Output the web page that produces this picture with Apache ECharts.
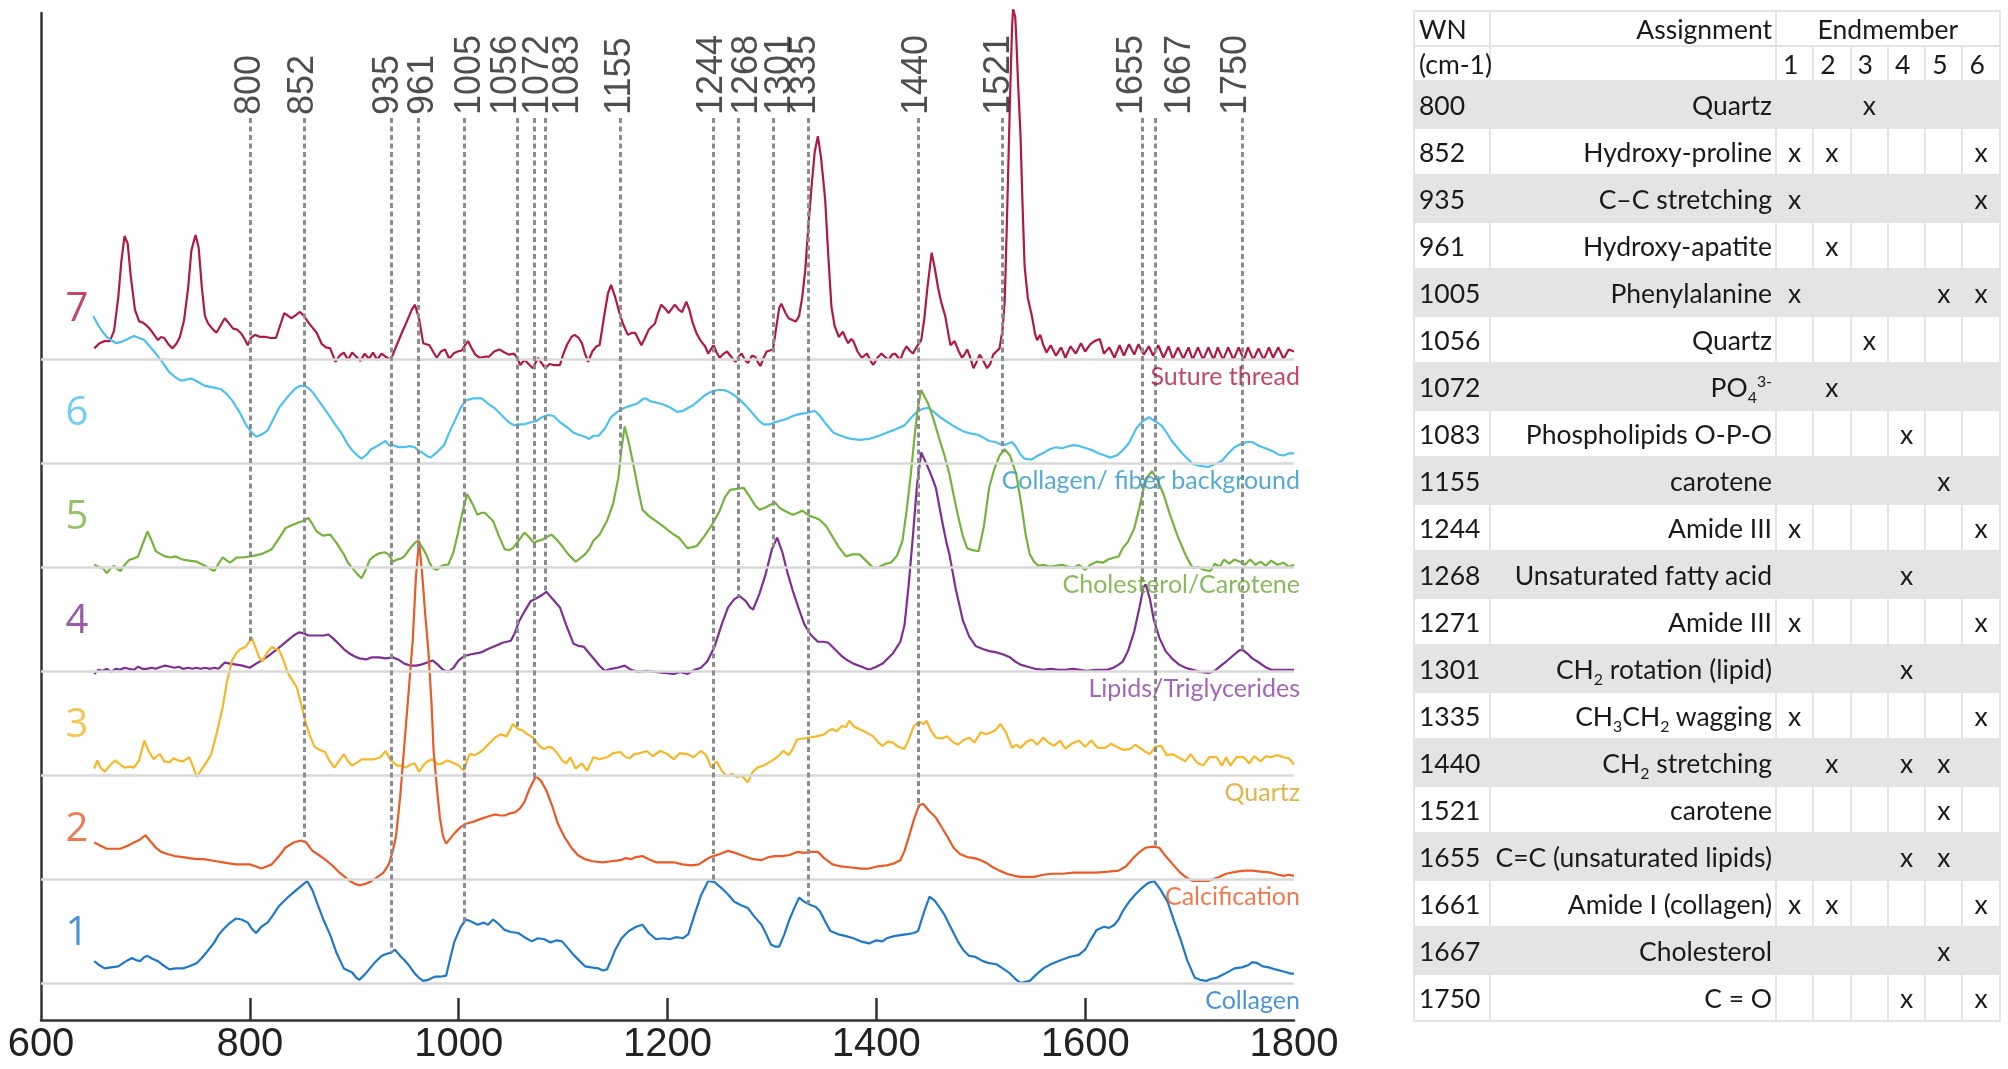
<!DOCTYPE html>
<html>
<head>
<meta charset="utf-8">
<title>Raman endmembers</title>
<script src="https://cdn.jsdelivr.net/npm/echarts@6/dist/echarts.min.js"></script>
<style>
html, body { margin: 0; padding: 0; background: #fff; }
#chart { position: absolute; left: 0; top: 0; width: 2008px; height: 1069px; }
#tbl {
  position: absolute; left: 1413px; top: 10px; width: 586px;
  border-collapse: collapse; table-layout: fixed;
  font-family: Lato, "Open Sans", sans-serif; font-size: 26.5px; color: #1a1a1a;
}
#tbl td { border: 2px solid #e4e4e4; padding: 0 4px; white-space: nowrap; overflow: visible; }
#tbl tr.head td { height: 33px; }
#tbl tr.row td { height: 45px; }
#tbl tr.grey td { background: #e4e4e4; }
#tbl td.wn { text-align: left; }
#tbl td.as { text-align: right; padding-right: 3px; }
#tbl td.em { text-align: center; padding: 0; }
#tbl td.num { text-align: left; padding-left: 6px; }
#tbl sub, #tbl sup { font-size: 0.6em; line-height: 0; }
</style>
</head>
<body>
<div id="chart"></div>
<table id="tbl"></table>
<script>
// spectra: [wavenumber, height above own baseline], 1 unit = baseline spacing
var collagen = [[651,0.22],[656,0.18],[661,0.15],[667,0.16],[674,0.17],[680,0.21],[687,0.25],[691,0.23],[695,0.22],[699,0.26],[702,0.27],[707,0.24],[712,0.22],[717,0.18],[723,0.14],[729,0.15],[736,0.15],[742,0.17],[749,0.20],[754,0.25],[759,0.31],[766,0.40],[770,0.47],[774,0.52],[780,0.58],[787,0.63],[792,0.62],[798,0.59],[802,0.53],[806,0.49],[811,0.55],[817,0.59],[822,0.66],[828,0.75],[835,0.82],[843,0.89],[849,0.94],[855,0.99],[860,0.90],[864,0.79],[870,0.63],[877,0.47],[883,0.30],[890,0.15],[894,0.13],[898,0.11],[902,0.06],[905,0.04],[910,0.09],[915,0.15],[920,0.21],[926,0.27],[931,0.29],[935,0.30],[939,0.33],[944,0.27],[948,0.23],[953,0.17],[958,0.10],[962,0.06],[966,0.03],[971,0.04],[977,0.07],[982,0.07],[988,0.08],[992,0.25],[996,0.41],[1002,0.55],[1007,0.62],[1012,0.60],[1018,0.57],[1024,0.59],[1028,0.57],[1033,0.62],[1038,0.58],[1044,0.52],[1050,0.50],[1057,0.49],[1063,0.45],[1070,0.41],[1076,0.44],[1082,0.43],[1088,0.40],[1094,0.42],[1099,0.41],[1105,0.34],[1110,0.28],[1116,0.22],[1121,0.17],[1127,0.16],[1134,0.15],[1138,0.13],[1142,0.14],[1146,0.23],[1150,0.33],[1156,0.44],[1163,0.51],[1170,0.55],[1176,0.57],[1182,0.49],[1189,0.43],[1196,0.44],[1202,0.43],[1208,0.45],[1215,0.44],[1220,0.48],[1226,0.67],[1232,0.85],[1239,0.99],[1245,0.98],[1252,0.92],[1258,0.86],[1264,0.79],[1270,0.76],[1277,0.73],[1283,0.65],[1290,0.57],[1295,0.47],[1299,0.38],[1303,0.36],[1307,0.36],[1312,0.48],[1316,0.60],[1321,0.72],[1326,0.83],[1331,0.79],[1337,0.76],[1342,0.74],[1346,0.70],[1351,0.60],[1356,0.51],[1363,0.48],[1371,0.46],[1378,0.44],[1385,0.41],[1393,0.39],[1400,0.42],[1406,0.41],[1410,0.44],[1417,0.46],[1423,0.47],[1430,0.48],[1436,0.49],[1440,0.51],[1446,0.70],[1451,0.84],[1456,0.80],[1461,0.73],[1465,0.67],[1470,0.57],[1478,0.41],[1483,0.33],[1489,0.27],[1495,0.26],[1502,0.22],[1508,0.20],[1515,0.19],[1521,0.15],[1527,0.11],[1533,0.05],[1538,0.01],[1543,0.02],[1547,0.03],[1553,0.09],[1560,0.15],[1567,0.19],[1577,0.23],[1585,0.26],[1594,0.28],[1600,0.33],[1605,0.42],[1611,0.52],[1618,0.55],[1623,0.54],[1628,0.57],[1632,0.62],[1636,0.70],[1642,0.79],[1648,0.86],[1654,0.92],[1660,0.97],[1666,0.99],[1672,0.91],[1679,0.79],[1685,0.61],[1692,0.41],[1698,0.22],[1705,0.06],[1710,0.04],[1716,0.03],[1721,0.05],[1726,0.06],[1734,0.10],[1743,0.15],[1750,0.16],[1756,0.18],[1760,0.21],[1765,0.20],[1770,0.17],[1776,0.16],[1782,0.14],[1790,0.12],[1797,0.10],[1800,0.10]];

var calcification = [[651,0.36],[657,0.33],[663,0.30],[670,0.30],[676,0.30],[683,0.33],[689,0.36],[695,0.39],[700,0.43],[705,0.37],[710,0.31],[715,0.27],[721,0.25],[728,0.23],[736,0.22],[742,0.21],[749,0.20],[755,0.20],[762,0.19],[768,0.18],[774,0.17],[780,0.16],[787,0.15],[794,0.15],[800,0.15],[806,0.13],[811,0.11],[816,0.13],[821,0.15],[828,0.23],[834,0.31],[842,0.36],[849,0.38],[854,0.36],[860,0.28],[866,0.24],[873,0.19],[880,0.13],[886,0.07],[891,0.03],[896,-0.01],[901,-0.04],[905,-0.05],[910,-0.04],[915,-0.02],[921,0.02],[928,0.07],[933,0.15],[937,0.28],[940,0.42],[944,0.80],[948,1.30],[952,1.80],[956,2.30],[959,2.90],[962,3.26],[965,2.95],[968,2.55],[971,2.20],[974,1.70],[976,1.24],[979,0.90],[982,0.60],[985,0.42],[988,0.35],[992,0.40],[997,0.46],[1002,0.51],[1007,0.54],[1014,0.56],[1022,0.59],[1028,0.61],[1035,0.63],[1040,0.62],[1044,0.62],[1049,0.64],[1054,0.65],[1059,0.69],[1063,0.75],[1068,0.88],[1074,1.00],[1079,0.95],[1084,0.86],[1090,0.70],[1095,0.54],[1101,0.42],[1108,0.31],[1114,0.24],[1121,0.20],[1128,0.18],[1138,0.17],[1146,0.18],[1155,0.19],[1160,0.21],[1165,0.20],[1170,0.22],[1176,0.23],[1182,0.20],[1189,0.17],[1196,0.17],[1206,0.17],[1214,0.15],[1223,0.14],[1230,0.15],[1236,0.19],[1241,0.22],[1250,0.25],[1258,0.28],[1265,0.26],[1273,0.23],[1282,0.20],[1290,0.19],[1297,0.22],[1303,0.23],[1310,0.23],[1317,0.24],[1324,0.27],[1331,0.26],[1337,0.27],[1344,0.27],[1350,0.21],[1358,0.15],[1366,0.13],[1376,0.12],[1385,0.11],[1393,0.11],[1401,0.13],[1410,0.14],[1417,0.16],[1423,0.19],[1427,0.28],[1431,0.41],[1436,0.58],[1441,0.72],[1445,0.73],[1450,0.67],[1457,0.60],[1463,0.50],[1469,0.40],[1474,0.31],[1480,0.25],[1487,0.22],[1494,0.21],[1500,0.19],[1506,0.16],[1512,0.12],[1518,0.09],[1525,0.06],[1532,0.04],[1538,0.03],[1545,0.03],[1551,0.03],[1560,0.05],[1568,0.06],[1578,0.06],[1589,0.07],[1600,0.07],[1611,0.07],[1622,0.08],[1632,0.09],[1639,0.13],[1645,0.20],[1651,0.26],[1658,0.31],[1665,0.32],[1671,0.31],[1677,0.23],[1684,0.15],[1690,0.08],[1696,0.03],[1703,-0.01],[1710,-0.01],[1718,-0.01],[1726,0.02],[1735,0.06],[1745,0.08],[1753,0.09],[1760,0.09],[1768,0.08],[1778,0.07],[1785,0.05],[1790,0.04],[1795,0.05],[1800,0.04]];

var quartz = [[651,0.07],[654,0.15],[657,0.08],[661,0.04],[666,0.10],[671,0.15],[676,0.11],[680,0.08],[685,0.09],[689,0.08],[694,0.15],[699,0.34],[703,0.24],[708,0.16],[711,0.19],[714,0.21],[718,0.14],[723,0.13],[727,0.17],[731,0.15],[736,0.14],[742,0.18],[746,0.08],[749,-0.01],[755,0.08],[759,0.14],[763,0.21],[768,0.40],[774,0.66],[778,0.90],[783,1.11],[787,1.18],[791,1.22],[796,1.24],[802,1.33],[806,1.22],[809,1.14],[812,1.10],[816,1.18],[821,1.24],[825,1.22],[828,1.21],[832,1.12],[836,1.00],[840,0.93],[845,0.85],[849,0.70],[853,0.53],[857,0.40],[862,0.28],[867,0.25],[872,0.23],[876,0.15],[881,0.08],[885,0.14],[890,0.21],[894,0.14],[898,0.10],[903,0.13],[907,0.16],[913,0.16],[919,0.16],[925,0.18],[930,0.24],[935,0.15],[941,0.10],[945,0.10],[949,0.08],[954,0.11],[958,0.12],[962,0.04],[966,0.10],[970,0.14],[975,0.16],[980,0.11],[984,0.12],[989,0.15],[994,0.13],[1000,0.10],[1005,0.05],[1008,0.15],[1011,0.21],[1016,0.20],[1022,0.24],[1028,0.30],[1035,0.37],[1040,0.40],[1046,0.38],[1052,0.50],[1057,0.45],[1061,0.44],[1066,0.40],[1071,0.37],[1075,0.32],[1078,0.28],[1082,0.26],[1086,0.28],[1090,0.27],[1095,0.21],[1099,0.15],[1103,0.12],[1107,0.18],[1112,0.07],[1118,0.12],[1123,0.05],[1129,0.18],[1135,0.16],[1142,0.18],[1148,0.22],[1155,0.23],[1160,0.18],[1164,0.17],[1168,0.21],[1174,0.22],[1180,0.24],[1186,0.19],[1193,0.24],[1200,0.21],[1206,0.16],[1212,0.22],[1219,0.21],[1225,0.18],[1232,0.24],[1237,0.20],[1242,0.08],[1247,0.14],[1252,0.05],[1257,0.00],[1262,0.02],[1266,-0.01],[1271,0.00],[1275,-0.04],[1277,-0.06],[1281,0.03],[1286,0.08],[1292,0.10],[1299,0.14],[1305,0.18],[1311,0.24],[1316,0.20],[1320,0.26],[1324,0.35],[1330,0.36],[1337,0.37],[1343,0.38],[1350,0.40],[1355,0.44],[1358,0.45],[1362,0.43],[1367,0.48],[1371,0.47],[1374,0.53],[1379,0.47],[1384,0.45],[1390,0.42],[1397,0.38],[1402,0.32],[1406,0.29],[1411,0.33],[1416,0.32],[1421,0.28],[1427,0.26],[1431,0.35],[1436,0.48],[1441,0.52],[1445,0.50],[1448,0.53],[1452,0.44],[1457,0.37],[1462,0.36],[1468,0.38],[1473,0.33],[1478,0.30],[1483,0.34],[1489,0.37],[1494,0.32],[1500,0.42],[1505,0.40],[1510,0.42],[1514,0.44],[1519,0.50],[1524,0.42],[1530,0.27],[1534,0.30],[1538,0.27],[1544,0.33],[1549,0.35],[1554,0.30],[1560,0.37],[1565,0.32],[1570,0.29],[1576,0.34],[1581,0.26],[1587,0.31],[1594,0.34],[1600,0.28],[1606,0.34],[1612,0.27],[1619,0.27],[1625,0.31],[1632,0.27],[1637,0.25],[1643,0.26],[1648,0.30],[1654,0.26],[1658,0.23],[1662,0.21],[1667,0.28],[1673,0.29],[1678,0.20],[1684,0.21],[1689,0.18],[1696,0.14],[1701,0.21],[1707,0.13],[1713,0.10],[1719,0.18],[1726,0.18],[1731,0.10],[1735,0.18],[1739,0.10],[1745,0.18],[1752,0.18],[1757,0.12],[1762,0.19],[1768,0.14],[1773,0.19],[1778,0.18],[1784,0.20],[1790,0.18],[1795,0.17],[1800,0.11]];

var lipids = [[651,-0.02],[655,0.02],[659,0.01],[663,0.03],[667,0.00],[672,0.03],[676,0.02],[680,0.04],[684,0.03],[689,0.02],[693,0.05],[697,0.03],[701,0.03],[706,0.04],[710,0.03],[715,0.05],[719,0.06],[724,0.05],[728,0.04],[732,0.05],[736,0.03],[741,0.04],[745,0.03],[749,0.04],[753,0.03],[757,0.04],[762,0.03],[766,0.04],[770,0.03],[776,0.09],[781,0.08],[787,0.07],[793,0.06],[800,0.04],[806,0.08],[813,0.12],[820,0.17],[825,0.21],[830,0.25],[836,0.30],[842,0.35],[847,0.38],[852,0.37],[856,0.35],[860,0.35],[866,0.35],[871,0.35],[875,0.36],[880,0.32],[885,0.27],[890,0.22],[895,0.18],[900,0.15],[905,0.13],[911,0.12],[917,0.14],[924,0.14],[930,0.13],[937,0.14],[942,0.12],[948,0.08],[954,0.06],[959,0.06],[964,0.07],[970,0.09],[975,0.11],[980,0.07],[985,0.02],[990,0.00],[995,0.04],[1000,0.11],[1005,0.15],[1012,0.17],[1018,0.18],[1022,0.19],[1028,0.22],[1035,0.25],[1042,0.28],[1050,0.30],[1054,0.38],[1058,0.49],[1063,0.58],[1069,0.68],[1075,0.71],[1080,0.74],[1084,0.77],[1090,0.70],[1097,0.62],[1103,0.45],[1110,0.27],[1115,0.25],[1120,0.24],[1125,0.18],[1130,0.12],[1135,0.06],[1140,0.01],[1146,0.03],[1152,0.04],[1159,0.06],[1165,0.02],[1172,0.00],[1180,0.01],[1189,0.00],[1197,-0.01],[1206,-0.02],[1212,0.00],[1219,-0.02],[1226,0.02],[1232,0.04],[1238,0.10],[1245,0.24],[1252,0.46],[1258,0.62],[1264,0.70],[1269,0.73],[1275,0.68],[1279,0.62],[1282,0.60],[1288,0.75],[1294,0.94],[1300,1.18],[1305,1.29],[1310,1.15],[1315,0.95],[1320,0.78],[1326,0.60],[1331,0.46],[1337,0.36],[1344,0.29],[1349,0.29],[1354,0.28],[1360,0.22],[1366,0.16],[1371,0.12],[1378,0.08],[1386,0.05],[1393,0.02],[1400,0.05],[1406,0.08],[1410,0.12],[1416,0.18],[1423,0.29],[1427,0.45],[1431,0.84],[1435,1.30],[1439,1.80],[1443,2.11],[1448,2.00],[1453,1.88],[1457,1.77],[1463,1.45],[1467,1.25],[1470,1.13],[1476,0.80],[1483,0.49],[1489,0.34],[1495,0.25],[1502,0.22],[1508,0.20],[1514,0.19],[1521,0.17],[1528,0.14],[1533,0.10],[1538,0.07],[1545,0.05],[1552,0.03],[1560,0.02],[1567,0.03],[1574,0.02],[1581,0.02],[1588,0.03],[1595,0.02],[1602,0.01],[1610,0.02],[1616,0.02],[1621,0.02],[1627,0.04],[1632,0.07],[1636,0.10],[1641,0.20],[1647,0.39],[1652,0.62],[1656,0.82],[1658,0.84],[1662,0.70],[1666,0.49],[1671,0.33],[1677,0.20],[1684,0.12],[1690,0.07],[1696,0.04],[1703,0.02],[1710,0.00],[1718,-0.01],[1724,0.01],[1730,0.06],[1735,0.10],[1742,0.16],[1748,0.21],[1751,0.21],[1756,0.17],[1760,0.13],[1765,0.10],[1772,0.05],[1778,0.02],[1785,0.02],[1792,0.02],[1800,0.02]];

var cholesterol = [[651,0.03],[655,0.01],[659,0.00],[663,-0.05],[667,0.00],[670,0.02],[673,-0.01],[676,-0.03],[681,0.04],[685,0.08],[689,0.09],[693,0.11],[697,0.22],[702,0.35],[706,0.26],[710,0.16],[715,0.13],[719,0.11],[724,0.10],[729,0.11],[733,0.09],[736,0.08],[742,0.07],[749,0.06],[753,0.04],[757,0.02],[762,-0.01],[766,-0.03],[770,0.04],[774,0.10],[778,0.07],[781,0.05],[785,0.08],[787,0.10],[793,0.10],[800,0.11],[806,0.12],[813,0.14],[817,0.16],[821,0.18],[827,0.27],[834,0.38],[840,0.41],[845,0.43],[851,0.45],[856,0.48],[860,0.42],[864,0.35],[870,0.31],[877,0.32],[883,0.24],[890,0.13],[894,0.05],[898,0.00],[903,-0.06],[907,-0.10],[911,-0.02],[915,0.08],[920,0.12],[924,0.14],[929,0.15],[933,0.13],[937,0.06],[941,0.08],[945,0.09],[948,0.11],[953,0.18],[958,0.24],[961,0.26],[965,0.20],[969,0.13],[972,0.05],[975,0.00],[979,-0.02],[984,0.02],[987,0.03],[990,0.03],[995,0.15],[999,0.32],[1004,0.55],[1008,0.71],[1013,0.62],[1018,0.51],[1022,0.53],[1025,0.53],[1030,0.48],[1033,0.45],[1038,0.32],[1044,0.18],[1048,0.17],[1052,0.19],[1058,0.27],[1063,0.34],[1068,0.29],[1072,0.24],[1076,0.26],[1080,0.27],[1085,0.30],[1089,0.32],[1094,0.27],[1099,0.21],[1105,0.13],[1112,0.06],[1116,0.09],[1121,0.13],[1125,0.18],[1129,0.26],[1135,0.32],[1142,0.45],[1148,0.62],[1153,0.87],[1156,1.15],[1159,1.36],[1163,1.20],[1168,0.96],[1172,0.75],[1176,0.56],[1182,0.50],[1189,0.45],[1196,0.40],[1202,0.35],[1206,0.32],[1211,0.29],[1215,0.24],[1219,0.19],[1224,0.20],[1228,0.21],[1235,0.30],[1243,0.42],[1250,0.55],[1255,0.68],[1260,0.75],[1266,0.76],[1273,0.77],[1279,0.68],[1284,0.60],[1288,0.56],[1294,0.58],[1299,0.61],[1303,0.63],[1308,0.57],[1314,0.54],[1320,0.51],[1325,0.53],[1329,0.55],[1336,0.50],[1342,0.48],[1346,0.46],[1352,0.40],[1358,0.30],[1364,0.20],[1371,0.11],[1377,0.13],[1384,0.13],[1390,0.07],[1397,0.00],[1403,0.01],[1409,0.04],[1414,0.05],[1420,0.12],[1425,0.26],[1429,0.55],[1433,0.90],[1437,1.30],[1440,1.55],[1443,1.71],[1446,1.65],[1450,1.57],[1455,1.42],[1460,1.25],[1465,1.09],[1470,0.90],[1474,0.70],[1478,0.51],[1483,0.30],[1487,0.19],[1492,0.17],[1498,0.16],[1503,0.40],[1508,0.77],[1513,0.95],[1518,1.08],[1523,1.14],[1528,1.08],[1534,0.90],[1539,0.60],[1543,0.32],[1547,0.13],[1551,0.06],[1555,0.02],[1560,0.03],[1566,0.01],[1572,0.02],[1578,0.03],[1584,0.01],[1589,0.00],[1594,0.03],[1600,-0.02],[1605,0.03],[1611,0.06],[1617,0.05],[1622,0.08],[1628,0.10],[1632,0.11],[1636,0.19],[1641,0.25],[1647,0.38],[1652,0.58],[1656,0.77],[1660,0.88],[1664,0.93],[1669,0.85],[1675,0.71],[1681,0.52],[1688,0.32],[1695,0.15],[1700,0.05],[1703,0.00],[1708,0.01],[1714,-0.02],[1720,-0.03],[1724,0.04],[1729,0.01],[1733,0.08],[1738,0.04],[1743,0.08],[1748,0.06],[1753,0.03],[1758,0.08],[1763,0.03],[1768,0.06],[1773,0.02],[1778,0.07],[1784,0.03],[1790,0.05],[1795,0.01],[1800,0.03]];

var fiber = [[650,1.42],[655,1.33],[659,1.27],[663,1.22],[667,1.19],[672,1.16],[676,1.17],[681,1.19],[685,1.21],[689,1.23],[694,1.21],[699,1.19],[704,1.13],[710,1.06],[716,0.98],[723,0.88],[729,0.83],[734,0.80],[739,0.81],[744,0.82],[750,0.79],[757,0.75],[762,0.74],[767,0.73],[772,0.72],[778,0.67],[783,0.61],[790,0.50],[796,0.38],[801,0.31],[806,0.26],[811,0.28],[817,0.32],[822,0.42],[828,0.54],[835,0.63],[843,0.72],[848,0.75],[853,0.75],[857,0.72],[860,0.69],[868,0.58],[877,0.45],[883,0.36],[888,0.29],[893,0.20],[898,0.13],[903,0.08],[907,0.05],[912,0.09],[916,0.14],[920,0.16],[925,0.19],[930,0.22],[934,0.17],[937,0.18],[943,0.16],[948,0.16],[953,0.17],[958,0.16],[962,0.12],[965,0.11],[969,0.08],[973,0.06],[979,0.11],[986,0.18],[991,0.30],[997,0.43],[1002,0.54],[1007,0.61],[1014,0.63],[1022,0.63],[1028,0.58],[1035,0.53],[1041,0.47],[1048,0.40],[1053,0.37],[1057,0.38],[1063,0.38],[1069,0.40],[1074,0.41],[1080,0.45],[1086,0.47],[1091,0.46],[1097,0.40],[1104,0.35],[1110,0.30],[1115,0.28],[1121,0.26],[1125,0.24],[1129,0.27],[1134,0.27],[1140,0.34],[1146,0.45],[1152,0.50],[1159,0.54],[1165,0.56],[1171,0.58],[1176,0.62],[1179,0.63],[1184,0.60],[1189,0.59],[1196,0.57],[1203,0.54],[1209,0.50],[1215,0.51],[1220,0.54],[1224,0.56],[1230,0.61],[1236,0.66],[1241,0.69],[1248,0.71],[1254,0.71],[1259,0.69],[1264,0.66],[1270,0.61],[1275,0.56],[1282,0.48],[1287,0.42],[1292,0.38],[1298,0.38],[1303,0.40],[1310,0.42],[1316,0.44],[1320,0.46],[1327,0.48],[1334,0.49],[1341,0.51],[1346,0.46],[1352,0.38],[1359,0.30],[1366,0.27],[1372,0.25],[1376,0.24],[1384,0.23],[1393,0.24],[1400,0.26],[1405,0.28],[1410,0.30],[1418,0.33],[1427,0.37],[1434,0.45],[1440,0.51],[1445,0.53],[1450,0.54],[1455,0.50],[1461,0.45],[1467,0.41],[1473,0.37],[1478,0.34],[1484,0.31],[1491,0.29],[1497,0.28],[1503,0.25],[1508,0.22],[1514,0.21],[1521,0.18],[1525,0.19],[1530,0.21],[1534,0.16],[1538,0.09],[1542,0.05],[1548,0.04],[1555,0.08],[1561,0.11],[1566,0.14],[1572,0.16],[1578,0.15],[1584,0.17],[1589,0.18],[1595,0.17],[1601,0.15],[1607,0.13],[1613,0.10],[1619,0.08],[1624,0.06],[1630,0.08],[1636,0.13],[1642,0.20],[1646,0.28],[1649,0.34],[1655,0.41],[1661,0.45],[1667,0.41],[1673,0.37],[1678,0.30],[1683,0.22],[1688,0.16],[1693,0.10],[1698,0.05],[1703,0.00],[1710,-0.02],[1718,-0.03],[1725,0.00],[1731,0.03],[1737,0.10],[1743,0.16],[1749,0.19],[1755,0.21],[1760,0.21],[1765,0.18],[1770,0.16],[1775,0.14],[1780,0.12],[1785,0.09],[1790,0.08],[1795,0.10],[1800,0.10]];

var suture = [[651,0.11],[656,0.16],[661,0.18],[666,0.18],[670,0.28],[674,0.60],[677,0.95],[680,1.19],[683,1.12],[686,0.80],[690,0.48],[694,0.37],[697,0.36],[700,0.34],[704,0.30],[707,0.26],[712,0.19],[715,0.22],[718,0.21],[722,0.15],[726,0.11],[730,0.16],[733,0.22],[737,0.38],[741,0.70],[744,1.05],[748,1.20],[751,1.08],[754,0.70],[757,0.42],[760,0.35],[764,0.30],[768,0.26],[772,0.33],[776,0.40],[780,0.35],[784,0.30],[788,0.29],[792,0.25],[795,0.20],[798,0.14],[801,0.21],[805,0.24],[810,0.22],[815,0.22],[820,0.21],[825,0.21],[829,0.33],[833,0.45],[837,0.42],[840,0.40],[844,0.43],[848,0.46],[852,0.42],[856,0.36],[860,0.31],[864,0.26],[869,0.15],[873,0.12],[877,0.11],[882,-0.02],[886,0.04],[890,0.07],[894,0.00],[898,0.07],[902,0.03],[906,-0.01],[910,0.06],[914,0.01],[918,0.07],[922,0.00],[926,0.06],[930,0.03],[935,0.00],[941,0.15],[946,0.27],[950,0.36],[955,0.48],[958,0.53],[962,0.40],[966,0.16],[972,0.14],[976,0.07],[979,0.02],[983,0.08],[987,0.10],[991,0.01],[995,0.06],[999,0.08],[1003,0.09],[1006,0.14],[1009,0.18],[1013,0.10],[1016,0.05],[1020,0.02],[1025,0.03],[1029,0.03],[1034,0.08],[1039,0.10],[1044,0.07],[1048,0.05],[1053,0.06],[1056,0.02],[1059,-0.05],[1063,0.00],[1066,-0.03],[1071,-0.08],[1076,0.02],[1080,-0.04],[1083,-0.08],[1087,-0.04],[1091,-0.05],[1097,-0.05],[1100,0.05],[1104,0.15],[1108,0.22],[1111,0.24],[1115,0.21],[1118,0.16],[1121,0.06],[1124,-0.02],[1128,0.08],[1132,0.13],[1135,0.14],[1139,0.40],[1143,0.64],[1146,0.72],[1150,0.60],[1154,0.45],[1158,0.33],[1162,0.24],[1166,0.26],[1169,0.26],[1172,0.20],[1175,0.14],[1178,0.20],[1182,0.29],[1185,0.32],[1188,0.35],[1191,0.45],[1194,0.53],[1198,0.49],[1201,0.45],[1204,0.49],[1207,0.53],[1211,0.48],[1214,0.46],[1218,0.56],[1221,0.48],[1224,0.36],[1228,0.25],[1232,0.18],[1236,0.13],[1239,0.06],[1244,0.14],[1247,0.07],[1250,0.02],[1254,0.06],[1257,0.08],[1261,0.03],[1265,-0.02],[1268,0.03],[1271,0.06],[1274,0.00],[1277,-0.03],[1281,0.04],[1284,0.03],[1287,-0.03],[1289,-0.06],[1292,0.02],[1295,0.08],[1298,0.09],[1301,0.10],[1304,0.30],[1307,0.50],[1309,0.54],[1313,0.45],[1316,0.40],[1320,0.38],[1323,0.37],[1326,0.42],[1329,0.60],[1332,0.87],[1335,1.30],[1338,1.67],[1341,2.00],[1344,2.15],[1347,1.95],[1351,1.54],[1354,1.00],[1357,0.51],[1360,0.33],[1364,0.22],[1368,0.27],[1371,0.20],[1373,0.16],[1376,0.20],[1378,0.18],[1382,0.08],[1386,0.02],[1391,0.06],[1394,0.00],[1397,-0.05],[1401,0.02],[1405,0.06],[1409,0.02],[1412,0.00],[1415,0.05],[1418,0.06],[1421,0.02],[1423,0.00],[1426,0.08],[1429,0.13],[1432,0.09],[1435,0.06],[1439,0.13],[1443,0.19],[1446,0.40],[1449,0.70],[1453,1.03],[1456,0.88],[1459,0.70],[1462,0.56],[1466,0.42],[1469,0.25],[1471,0.14],[1475,0.18],[1479,0.08],[1482,0.02],[1485,0.06],[1487,0.10],[1490,0.02],[1493,-0.08],[1496,-0.02],[1499,0.05],[1502,0.00],[1506,-0.08],[1509,-0.04],[1512,0.05],[1515,0.08],[1518,0.11],[1521,0.30],[1523,0.58],[1525,1.30],[1527,2.10],[1528,2.50],[1530,3.20],[1531,3.37],[1533,3.30],[1534,3.10],[1536,2.60],[1538,2.18],[1540,1.50],[1542,0.90],[1545,0.60],[1549,0.42],[1552,0.25],[1554,0.19],[1557,0.24],[1560,0.14],[1563,0.07],[1567,0.14],[1572,0.04],[1577,0.12],[1581,0.02],[1586,0.13],[1591,0.06],[1596,0.16],[1600,0.08],[1605,0.15],[1609,0.18],[1614,0.20],[1618,0.06],[1623,0.12],[1628,0.02],[1633,0.14],[1637,0.04],[1642,0.15],[1647,0.05],[1651,0.15],[1656,0.05],[1661,0.13],[1665,0.04],[1670,0.14],[1675,0.02],[1680,0.13],[1684,0.01],[1689,0.12],[1694,0.01],[1699,0.12],[1703,0.00],[1708,0.12],[1713,0.00],[1718,0.12],[1723,0.00],[1727,0.12],[1732,0.00],[1737,0.12],[1742,0.00],[1747,0.12],[1752,0.00],[1756,0.12],[1761,0.00],[1766,0.11],[1771,0.00],[1776,0.12],[1780,0.02],[1785,0.12],[1790,0.01],[1795,0.10],[1800,0.08]];

// endmember 1..7 from bottom to top
var spectra = [collagen, calcification, quartz, lipids, cholesterol, fiber, suture];
var endNames = ['Collagen', 'Calcification', 'Quartz', 'Lipids/Triglycerides', 'Cholesterol/Carotene', 'Collagen/ fiber background', 'Suture thread'];
var lineColors = ['#1f78c8', '#e85a26', '#f4b82a', '#7d2f92', '#76b23e', '#4fc0ee', '#b01a40'];
var nameColors = ['#1f78c8', '#e85a26', '#d7a21c', '#8b3fa6', '#6aa935', '#2b95c8', '#b01a40'];

// marked wavenumbers, the endmember each dashed line drops down to,
// and where its rotated label sits (labels are spread apart where lines crowd)
var peakWN = [800, 852, 935, 961, 1005, 1056, 1072, 1083, 1155, 1244, 1268, 1301, 1335, 1440, 1521, 1655, 1667, 1750];
var peakEnd = [3, 2, 1, 2, 1, 3, 2, 4, 5, 1, 4, 4, 1, 2, 5, 4, 2, 4];
var peakLabelAt = [800, 851, 932, 966, 1011, 1045, 1076, 1105, 1155, 1243, 1276, 1308, 1332, 1439, 1518, 1645, 1691, 1745];

// table on the right
var tableWN = [800, 852, 935, 961, 1005, 1056, 1072, 1083, 1155, 1244, 1268, 1271, 1301, 1335, 1440, 1521, 1655, 1661, 1667, 1750];
var tableAssign = ['Quartz', 'Hydroxy-proline', 'C–C stretching', 'Hydroxy-apatite', 'Phenylalanine', 'Quartz',
  'PO<sub>4</sub><sup>3-</sup>', 'Phospholipids O-P-O', 'carotene', 'Amide III', 'Unsaturated fatty acid', 'Amide III',
  'CH<sub>2</sub> rotation (lipid)', 'CH<sub>3</sub>CH<sub>2</sub> wagging', 'CH<sub>2</sub> stretching', 'carotene',
  'C=C (unsaturated lipids)', 'Amide I (collagen)', 'Cholesterol', 'C = O'];
var tableMembers = [[3], [1, 2, 6], [1, 6], [2], [1, 5, 6], [3], [2], [4], [5], [1, 6], [4], [1, 6], [4], [1, 6], [2, 4, 5], [5], [4, 5], [1, 2, 6], [5], [4, 6]];

// build table
var html = '<colgroup><col style="width:76px"><col style="width:286px">';
for (var c = 0; c < 6; c++) html += '<col style="width:37.3px">';
html += '</colgroup>';
html += '<tr class="head"><td class="wn">WN</td><td class="as">Assignment</td><td colspan="6" style="text-align:center">Endmember</td></tr>';
html += '<tr class="head"><td class="wn">(cm-1)</td><td></td>';
for (var c = 1; c <= 6; c++) html += '<td class="num">' + c + '</td>';
html += '</tr>';
tableWN.forEach(function (wn, i) {
  html += '<tr class="row' + (i % 2 === 0 ? ' grey' : '') + '"><td class="wn">' + wn + '</td><td class="as">' + tableAssign[i] + '</td>';
  for (var c = 1; c <= 6; c++) html += '<td class="em">' + (tableMembers[i].indexOf(c) >= 0 ? 'x' : '') + '</td>';
  html += '</tr>';
});
document.getElementById('tbl').innerHTML = html;

// chart
var chart = echarts.init(document.getElementById('chart'));

function baseOf(k) { return 0.346 + (k - 1); }

function valueAt(k, wn) {
  var s = spectra[k - 1];
  for (var i = 1; i < s.length; i++) {
    if (s[i][0] >= wn) {
      var t = (wn - s[i - 1][0]) / (s[i][0] - s[i - 1][0]);
      return baseOf(k) + s[i - 1][1] + t * (s[i][1] - s[i - 1][1]);
    }
  }
  return baseOf(k);
}

var series = [];

// grey baselines
series.push({
  type: 'line', data: [], z: 1, silent: true,
  markLine: {
    silent: true, symbol: ['none', 'none'], label: { show: false },
    lineStyle: { color: '#d9d9d9', width: 2.5, type: 'solid' },
    data: spectra.map(function (s, i) { return { yAxis: baseOf(i + 1) }; })
  }
});

// dashed peak markers
series.push({
  type: 'line', data: [], z: 1, silent: true,
  markLine: {
    silent: true, symbol: ['none', 'none'], label: { show: false },
    lineStyle: { color: '#8c8c8c', width: 3, type: [5, 3.5] },
    data: peakWN.map(function (wn, i) {
      return [{ coord: [wn, 8.67] }, { coord: [wn, valueAt(peakEnd[i], wn)] }];
    })
  }
});

// spectra, top one drawn first
for (var k = 7; k >= 1; k--) {
  (function (k) {
    series.push({
      name: endNames[k - 1], type: 'line', z: 3, clip: false,
      showSymbol: false, silent: true,
      lineStyle: { color: lineColors[k - 1], width: 2.2 },
      data: spectra[k - 1].map(function (p) { return [p[0], baseOf(k) + p[1]]; })
    });
  })(k);
}

// rotated wavenumber labels above the dashed lines
series.push({
  type: 'scatter', symbolSize: 0, z: 5, silent: true,
  data: peakLabelAt.map(function (x, i) { return { value: [x, 8.70], name: String(peakWN[i]) }; }),
  label: {
    show: true, position: [0, 0], rotate: 90, align: 'left', verticalAlign: 'middle',
    fontFamily: 'Liberation Sans', fontSize: 36, color: '#222',
    formatter: function (p) { return p.name; }
  }
});

// endmember numbers on the left
series.push({
  type: 'scatter', symbolSize: 0, z: 5, silent: true,
  data: spectra.map(function (s, i) {
    return { value: [634.5, baseOf(i + 1) + 0.48], label: { color: lineColors[i] } };
  }),
  label: {
    show: true, position: [0, 0], align: 'center', verticalAlign: 'middle',
    fontFamily: 'Open Sans', fontSize: 40,
    formatter: function (p) { return String(p.dataIndex + 1); }
  }
});

// endmember names on the right
series.push({
  type: 'scatter', symbolSize: 0, z: 5, silent: true,
  data: spectra.map(function (s, i) {
    return { value: [1800, baseOf(i + 1) - 0.16], label: { color: nameColors[i] } };
  }),
  label: {
    show: true, position: [0, 0], align: 'right', verticalAlign: 'middle', offset: [6, 0],
    fontFamily: 'Lato', fontSize: 25,
    formatter: function (p) { return endNames[p.dataIndex]; }
  }
});

var option = {
  backgroundColor: '#fff',
  animation: false,
  grid: { left: 41, right: 714, top: 13, bottom: 49 },
  xAxis: {
    type: 'value', min: 600, max: 1800, interval: 200,
    axisLine: { lineStyle: { color: '#333', width: 2.5 } },
    axisTick: { inside: true, length: 22, lineStyle: { color: '#333', width: 2.5 }, customValues: [800, 1000, 1200, 1400, 1600] },
    axisLabel: {
      fontFamily: 'Liberation Sans', fontSize: 40, color: '#222', margin: 5,
      formatter: function (v) { return String(v); }
    },
    splitLine: { show: false }
  },
  yAxis: {
    type: 'value', min: 0, max: 9.68,
    axisLine: { show: true, lineStyle: { color: '#333', width: 2.5 } },
    axisTick: { show: false }, axisLabel: { show: false }, splitLine: { show: false }
  },
  series: series
};

chart.setOption(option);
</script>
</body>
</html>
